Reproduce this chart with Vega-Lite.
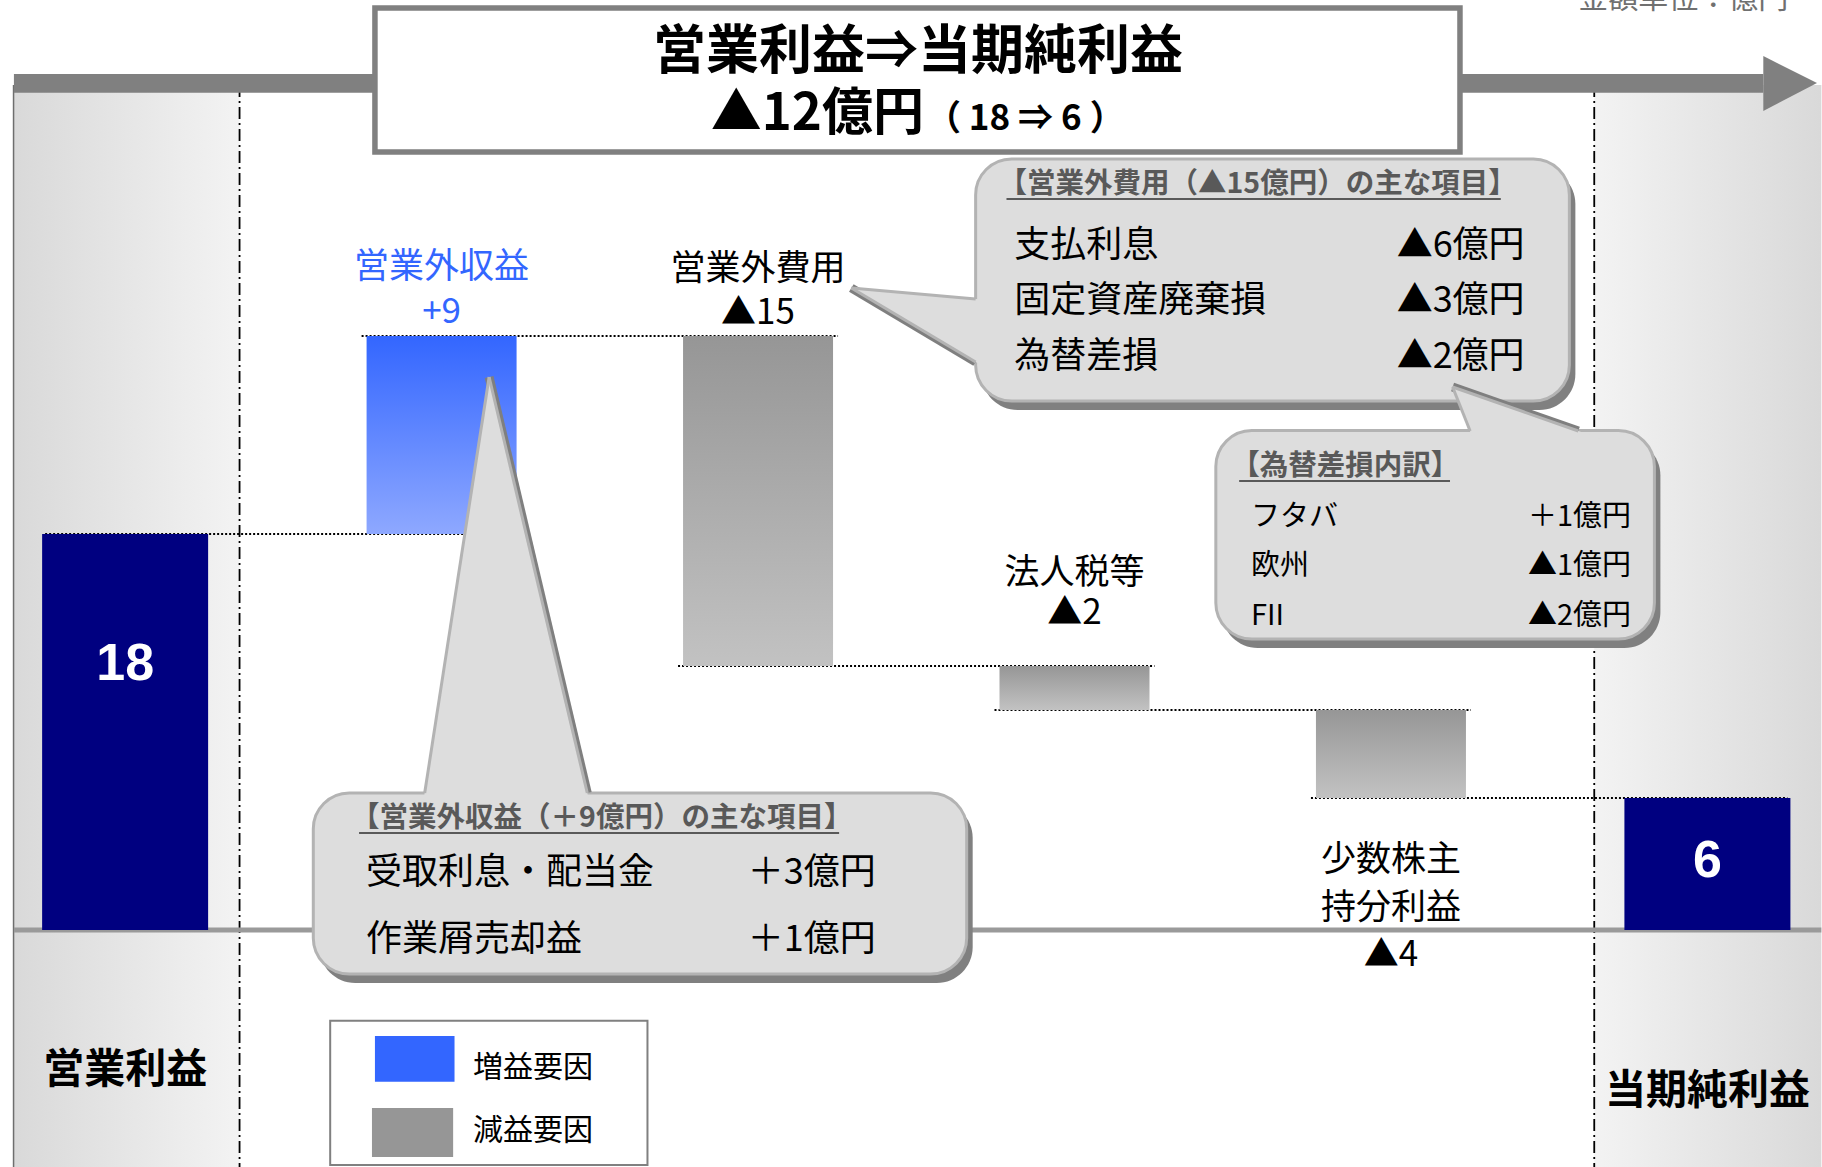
{
  "$schema": "https://vega.github.io/schema/vega-lite/v6.json",
  "width": 1822,
  "height": 1167,
  "autosize": "none",
  "padding": 0,
  "background": "white",
  "config": {"view": {"stroke": null}, "font": "Noto Sans CJK JP"},
  "datasets": {
    "panels": [
      {"side": "left", "x1": -0.3514, "x2": 0.362, "y1": 38.41, "y2": -10.8},
      {"side": "right", "x1": 4.6424, "x2": 5.36, "y1": 38.41, "y2": -10.8}
    ],
    "vlines": [
      {"style": "edge", "x": -0.3526, "y1": 38.41, "y2": -10.8},
      {"style": "dashdot", "x": 0.3616, "y1": 38.41, "y2": -10.8},
      {"style": "dashdot", "x": 4.6424, "y1": 38.41, "y2": -10.8}
    ],
    "arrow": [{"x1": -0.3514, "x2": 5.1766, "y1": 38.909, "y2": 38.059}],
    "arrowhead": [
      {"x": 5.1766, "top": 39.727, "bottom": 37.227},
      {"x": 5.3463, "top": 38.5, "bottom": 38.5}
    ],
    "frames": [
      {"frame": "title", "x1": 0.7894, "x2": 4.2181, "y1": 41.909, "y2": 35.364},
      {"frame": "legend", "x1": 0.648, "x2": 1.6506, "y1": -4.123, "y2": -10.682}
    ],
    "baseline": [{"x1": -0.3514, "x2": 5.36, "y": 0}],
    "bars": [
      {"idx": 0, "item": "営業利益", "start": 0, "end": 18, "kind": "total"},
      {"idx": 1, "item": "営業外収益", "start": 18, "end": 27, "kind": "up"},
      {"idx": 2, "item": "営業外費用", "start": 27, "end": 12, "kind": "down"},
      {"idx": 3, "item": "法人税等", "start": 12, "end": 10, "kind": "down"},
      {"idx": 4, "item": "少数株主持分利益", "start": 10, "end": 6, "kind": "down"},
      {"idx": 5, "item": "当期純利益", "start": 0, "end": 6, "kind": "total"}
    ],
    "steps": [
      {"from": 0, "to": 1, "level": 18},
      {"from": 1, "to": 2, "level": 27},
      {"from": 2, "to": 3, "level": 12},
      {"from": 3, "to": 4, "level": 10},
      {"from": 4, "to": 5, "level": 6}
    ],
    "callouts": [
      {"id": "c1", "x1": 2.6876, "x2": 4.5638, "y1": 35.045, "y2": 24.045},
      {"id": "c2", "x1": 3.4466, "x2": 4.8325, "y1": 22.7, "y2": 13.227},
      {"id": "c3", "x1": 0.5946, "x2": 2.6593, "y1": 6.227, "y2": -2.0}
    ],
    "pointerV": [
      {"x": 2.2948, "top": 29.182, "bottom": 29.182},
      {"x": 2.7159, "top": 28.645, "bottom": 25.577}
    ],
    "pointerH": [
      {"id": "p2", "y": 24.682, "left": 4.1948, "right": 4.1948},
      {"id": "p2", "y": 22.273, "left": 4.2608, "right": 4.6737},
      {"id": "p3", "y": 25.136, "left": 1.1502, "right": 1.1502},
      {"id": "p3", "y": 5.818, "left": 0.9422, "right": 1.467}
    ],
    "edges": [
      {"edge": "p1a", "tone": "light", "x": 2.2948, "y": 29.182},
      {"edge": "p1a", "tone": "light", "x": 2.6876, "y": 28.682},
      {"edge": "p1b", "tone": "dark", "x": 2.2948, "y": 29.182},
      {"edge": "p1b", "tone": "dark", "x": 2.6876, "y": 25.818},
      {"edge": "p2a", "tone": "light", "x": 4.1948, "y": 24.682},
      {"edge": "p2a", "tone": "light", "x": 4.2502, "y": 22.682},
      {"edge": "p2b", "tone": "dark", "x": 4.1948, "y": 24.682},
      {"edge": "p2b", "tone": "dark", "x": 4.5921, "y": 22.682},
      {"edge": "p3a", "tone": "light", "x": 1.1502, "y": 25.136},
      {"edge": "p3a", "tone": "light", "x": 0.9466, "y": 6.227},
      {"edge": "p3b", "tone": "dark", "x": 1.1502, "y": 25.136},
      {"edge": "p3b", "tone": "dark", "x": 1.4604, "y": 6.227}
    ],
    "underlines": [
      {"x1": 2.7851, "x2": 4.3471, "y": 33.227},
      {"x1": 3.5203, "x2": 4.1866, "y": 20.41},
      {"x1": 0.7392, "x2": 2.2562, "y": 4.409}
    ],
    "swatches": [
      {"factor": "増益要因", "x1": 0.7894, "x2": 1.0409, "y1": -4.818, "y2": -6.895},
      {"factor": "減益要因", "x1": 0.78, "x2": 1.0365, "y1": -8.091, "y2": -10.318}
    ],
    "texts": [
      {"role": "title1", "text": "営業利益⇒当期純利益", "x": 2.5054, "y": 39.86},
      {"role": "title2a", "text": "▲12億円", "x": 2.5242, "y": 36.364},
      {"role": "title2b", "text": "（ 18 ⇒ 6 ）", "x": 2.5305, "y": 36.364},
      {"role": "unit", "text": "金額単位：億円", "x": 5.2552, "y": 41.932},
      {"role": "blue", "text": "営業外収益", "x": 1, "y": 30.136},
      {"role": "blue", "text": "+9", "x": 1, "y": 28.09},
      {"role": "black", "text": "営業外費用", "x": 2, "y": 30.045},
      {"role": "black", "text": "▲15", "x": 2, "y": 28.045},
      {"role": "black", "text": "法人税等", "x": 3, "y": 16.25},
      {"role": "black", "text": "▲2", "x": 3, "y": 14.41},
      {"role": "black", "text": "少数株主", "x": 4, "y": 3.18},
      {"role": "black", "text": "持分利益", "x": 4, "y": 1.0},
      {"role": "black", "text": "▲4", "x": 4, "y": -1.114},
      {"role": "white", "text": "18", "x": 0, "y": 12.09},
      {"role": "white", "text": "6", "x": 5, "y": 3.136},
      {"role": "cat", "text": "営業利益", "x": 0, "y": -6.41},
      {"role": "cat", "text": "当期純利益", "x": 5, "y": -7.386},
      {"role": "ctitle", "text": "【営業外費用（▲15億円）の主な項目】", "x": 2.7599, "y": 33.909},
      {"role": "ctitle", "text": "【為替差損内訳】", "x": 3.4953, "y": 21.09},
      {"role": "ctitle", "text": "【営業外収益（＋9億円）の主な項目】", "x": 0.714, "y": 5.091},
      {"role": "itemL", "text": "支払利息", "x": 2.8093, "y": 31.091},
      {"role": "itemL", "text": "固定資産廃棄損", "x": 2.8093, "y": 28.591},
      {"role": "itemL", "text": "為替差損", "x": 2.8093, "y": 26.045},
      {"role": "itemR", "text": "▲6億円", "x": 4.4224, "y": 31.091},
      {"role": "itemR", "text": "▲3億円", "x": 4.4224, "y": 28.591},
      {"role": "itemR", "text": "▲2億円", "x": 4.4224, "y": 26.045},
      {"role": "itemL", "text": "受取利息・配当金", "x": 0.7612, "y": 2.591},
      {"role": "itemL", "text": "作業屑売却益", "x": 0.7612, "y": -0.4545},
      {"role": "itemR", "text": "＋3億円", "x": 2.3718, "y": 2.591},
      {"role": "itemR", "text": "＋1億円", "x": 2.3718, "y": -0.4545},
      {"role": "smallL", "text": "フタバ", "x": 3.5575, "y": 18.795},
      {"role": "smallL", "text": "欧州", "x": 3.5575, "y": 16.523},
      {"role": "smallL", "text": "FII", "x": 3.5575, "y": 14.273},
      {"role": "smallR", "text": "＋1億円", "x": 4.7587, "y": 18.795},
      {"role": "smallR", "text": "▲1億円", "x": 4.7587, "y": 16.523},
      {"role": "smallR", "text": "▲2億円", "x": 4.7587, "y": 14.273},
      {"role": "legend", "text": "増益要因", "x": 1.0996, "y": -6.273},
      {"role": "legend", "text": "減益要因", "x": 1.0996, "y": -9.136}
    ]
  },
  "layer": [
    {
      "data": {"name": "panels"},
      "transform": [{"filter": "datum.side === 'left'"}],
      "mark": {"type": "rect", "fill": {"gradient": "linear", "x1": 0, "y1": 0, "x2": 1, "y2": 0, "stops": [{"offset": 0, "color": "#d9d9d9"}, {"offset": 1, "color": "#f3f3f3"}]}},
      "encoding": {
        "x": {"field": "x1", "type": "quantitative", "scale": {"domain": [-0.3796, 5.3463], "nice": false, "zero": false}, "axis": null},
        "x2": {"field": "x2"},
        "y": {"field": "y1", "type": "quantitative", "scale": {"domain": [-10.773, 42.273], "nice": false, "zero": false}, "axis": null},
        "y2": {"field": "y2"}
      }
    },
    {
      "data": {"name": "panels"},
      "transform": [{"filter": "datum.side === 'right'"}],
      "mark": {"type": "rect", "fill": {"gradient": "linear", "x1": 0, "y1": 0, "x2": 1, "y2": 0, "stops": [{"offset": 0, "color": "#f3f3f3"}, {"offset": 1, "color": "#d9d9d9"}]}},
      "encoding": {
        "x": {"field": "x1", "type": "quantitative", "scale": {"domain": [-0.3796, 5.3463], "nice": false, "zero": false}, "axis": null},
        "x2": {"field": "x2"},
        "y": {"field": "y1", "type": "quantitative", "scale": {"domain": [-10.773, 42.273], "nice": false, "zero": false}, "axis": null},
        "y2": {"field": "y2"}
      }
    },
    {
      "data": {"name": "vlines"},
      "transform": [{"filter": "datum.style === 'edge'"}],
      "mark": {"type": "rule", "stroke": "#6e6e6e", "strokeWidth": 1.5},
      "encoding": {
        "x": {"field": "x", "type": "quantitative", "scale": {"domain": [-0.3796, 5.3463], "nice": false, "zero": false}, "axis": null},
        "y": {"field": "y1", "type": "quantitative", "scale": {"domain": [-10.773, 42.273], "nice": false, "zero": false}, "axis": null},
        "y2": {"field": "y2"}
      }
    },
    {
      "data": {"name": "vlines"},
      "transform": [{"filter": "datum.style === 'dashdot'"}],
      "mark": {"type": "rule", "stroke": "#000000", "strokeWidth": 1.8, "strokeDash": [12, 4, 2, 4]},
      "encoding": {
        "x": {"field": "x", "type": "quantitative", "scale": {"domain": [-0.3796, 5.3463], "nice": false, "zero": false}, "axis": null},
        "y": {"field": "y1", "type": "quantitative", "scale": {"domain": [-10.773, 42.273], "nice": false, "zero": false}, "axis": null},
        "y2": {"field": "y2"}
      }
    },
    {
      "data": {"name": "arrow"},
      "mark": {"type": "rect", "fill": "#808080"},
      "encoding": {
        "x": {"field": "x1", "type": "quantitative", "scale": {"domain": [-0.3796, 5.3463], "nice": false, "zero": false}, "axis": null},
        "x2": {"field": "x2"},
        "y": {"field": "y1", "type": "quantitative", "scale": {"domain": [-10.773, 42.273], "nice": false, "zero": false}, "axis": null},
        "y2": {"field": "y2"}
      }
    },
    {
      "data": {"name": "arrowhead"},
      "mark": {"type": "area", "fill": "#808080", "orient": "vertical"},
      "encoding": {
        "x": {"field": "x", "type": "quantitative", "scale": {"domain": [-0.3796, 5.3463], "nice": false, "zero": false}, "axis": null},
        "y": {"field": "top", "type": "quantitative", "scale": {"domain": [-10.773, 42.273], "nice": false, "zero": false}, "axis": null, "stack": null},
        "y2": {"field": "bottom"}
      }
    },
    {
      "data": {"name": "frames"},
      "transform": [{"filter": "datum.frame === 'title'"}],
      "mark": {"type": "rect", "fill": "#ffffff", "stroke": "#808080", "strokeWidth": 5.5},
      "encoding": {
        "x": {"field": "x1", "type": "quantitative", "scale": {"domain": [-0.3796, 5.3463], "nice": false, "zero": false}, "axis": null},
        "x2": {"field": "x2"},
        "y": {"field": "y1", "type": "quantitative", "scale": {"domain": [-10.773, 42.273], "nice": false, "zero": false}, "axis": null},
        "y2": {"field": "y2"}
      }
    },
    {
      "data": {"name": "baseline"},
      "mark": {"type": "rule", "stroke": "#9a9a9a", "strokeWidth": 5},
      "encoding": {
        "x": {"field": "x1", "type": "quantitative", "scale": {"domain": [-0.3796, 5.3463], "nice": false, "zero": false}, "axis": null},
        "x2": {"field": "x2"},
        "y": {"field": "y", "type": "quantitative", "scale": {"domain": [-10.773, 42.273], "nice": false, "zero": false}, "axis": null}
      }
    },
    {
      "data": {"name": "steps"},
      "mark": {"type": "rule", "stroke": "#000000", "strokeWidth": 2, "strokeDash": [2, 2], "xOffset": -80, "x2Offset": 80},
      "encoding": {
        "x": {"field": "from", "type": "quantitative", "scale": {"domain": [-0.3796, 5.3463], "nice": false, "zero": false}, "axis": null},
        "x2": {"field": "to"},
        "y": {"field": "level", "type": "quantitative", "scale": {"domain": [-10.773, 42.273], "nice": false, "zero": false}, "axis": null}
      }
    },
    {
      "data": {"name": "bars"},
      "transform": [{"filter": "datum.kind === 'total'"}],
      "mark": {"type": "bar", "width": 166, "fill": "#000080"},
      "encoding": {
        "x": {"field": "idx", "type": "quantitative", "scale": {"domain": [-0.3796, 5.3463], "nice": false, "zero": false}, "axis": null},
        "y": {"field": "start", "type": "quantitative", "scale": {"domain": [-10.773, 42.273], "nice": false, "zero": false}, "axis": null, "stack": null},
        "y2": {"field": "end"}
      }
    },
    {
      "data": {"name": "bars"},
      "transform": [{"filter": "datum.kind === 'up'"}],
      "mark": {"type": "bar", "width": 150, "fill": {"gradient": "linear", "x1": 0, "y1": 0, "x2": 0, "y2": 1, "stops": [{"offset": 0, "color": "#3366ff"}, {"offset": 1, "color": "#8ea8ff"}]}},
      "encoding": {
        "x": {"field": "idx", "type": "quantitative", "scale": {"domain": [-0.3796, 5.3463], "nice": false, "zero": false}, "axis": null},
        "y": {"field": "start", "type": "quantitative", "scale": {"domain": [-10.773, 42.273], "nice": false, "zero": false}, "axis": null, "stack": null},
        "y2": {"field": "end"}
      }
    },
    {
      "data": {"name": "bars"},
      "transform": [{"filter": "datum.kind === 'down'"}],
      "mark": {"type": "bar", "width": 150, "fill": {"gradient": "linear", "x1": 0, "y1": 0, "x2": 0, "y2": 1, "stops": [{"offset": 0, "color": "#969696"}, {"offset": 1, "color": "#c2c2c2"}]}},
      "encoding": {
        "x": {"field": "idx", "type": "quantitative", "scale": {"domain": [-0.3796, 5.3463], "nice": false, "zero": false}, "axis": null},
        "y": {"field": "start", "type": "quantitative", "scale": {"domain": [-10.773, 42.273], "nice": false, "zero": false}, "axis": null, "stack": null},
        "y2": {"field": "end"}
      }
    },
    {
      "data": {"name": "callouts"},
      "mark": {"type": "rect", "fill": "#808080", "cornerRadius": 36, "xOffset": 6, "x2Offset": 6, "yOffset": 9, "y2Offset": 9},
      "encoding": {
        "x": {"field": "x1", "type": "quantitative", "scale": {"domain": [-0.3796, 5.3463], "nice": false, "zero": false}, "axis": null},
        "x2": {"field": "x2"},
        "y": {"field": "y1", "type": "quantitative", "scale": {"domain": [-10.773, 42.273], "nice": false, "zero": false}, "axis": null},
        "y2": {"field": "y2"}
      }
    },
    {
      "data": {"name": "callouts"},
      "mark": {"type": "rect", "fill": "#dddddd", "stroke": "#b3b3b3", "strokeWidth": 3, "cornerRadius": 36},
      "encoding": {
        "x": {"field": "x1", "type": "quantitative", "scale": {"domain": [-0.3796, 5.3463], "nice": false, "zero": false}, "axis": null},
        "x2": {"field": "x2"},
        "y": {"field": "y1", "type": "quantitative", "scale": {"domain": [-10.773, 42.273], "nice": false, "zero": false}, "axis": null},
        "y2": {"field": "y2"}
      }
    },
    {
      "data": {"name": "edges"},
      "transform": [{"filter": "datum.tone === 'dark'"}],
      "mark": {"type": "line", "stroke": "#7f7f7f", "strokeWidth": 9, "strokeCap": "butt"},
      "encoding": {
        "x": {"field": "x", "type": "quantitative", "scale": {"domain": [-0.3796, 5.3463], "nice": false, "zero": false}, "axis": null},
        "y": {"field": "y", "type": "quantitative", "scale": {"domain": [-10.773, 42.273], "nice": false, "zero": false}, "axis": null},
        "detail": {"field": "edge"}
      }
    },
    {
      "data": {"name": "pointerV"},
      "mark": {"type": "area", "fill": "#dddddd", "orient": "vertical"},
      "encoding": {
        "x": {"field": "x", "type": "quantitative", "scale": {"domain": [-0.3796, 5.3463], "nice": false, "zero": false}, "axis": null},
        "y": {"field": "top", "type": "quantitative", "scale": {"domain": [-10.773, 42.273], "nice": false, "zero": false}, "axis": null, "stack": null},
        "y2": {"field": "bottom"}
      }
    },
    {
      "data": {"name": "pointerH"},
      "mark": {"type": "area", "fill": "#dddddd", "orient": "horizontal"},
      "encoding": {
        "y": {"field": "y", "type": "quantitative", "scale": {"domain": [-10.773, 42.273], "nice": false, "zero": false}, "axis": null},
        "x": {"field": "left", "type": "quantitative", "scale": {"domain": [-0.3796, 5.3463], "nice": false, "zero": false}, "axis": null, "stack": null},
        "x2": {"field": "right"},
        "detail": {"field": "id"}
      }
    },
    {
      "data": {"name": "edges"},
      "mark": {"type": "line", "stroke": "#b3b3b3", "strokeWidth": 3},
      "encoding": {
        "x": {"field": "x", "type": "quantitative", "scale": {"domain": [-0.3796, 5.3463], "nice": false, "zero": false}, "axis": null},
        "y": {"field": "y", "type": "quantitative", "scale": {"domain": [-10.773, 42.273], "nice": false, "zero": false}, "axis": null},
        "detail": {"field": "edge"}
      }
    },
    {
      "data": {"name": "underlines"},
      "mark": {"type": "rule", "stroke": "#595959", "strokeWidth": 2},
      "encoding": {
        "x": {"field": "x1", "type": "quantitative", "scale": {"domain": [-0.3796, 5.3463], "nice": false, "zero": false}, "axis": null},
        "x2": {"field": "x2"},
        "y": {"field": "y", "type": "quantitative", "scale": {"domain": [-10.773, 42.273], "nice": false, "zero": false}, "axis": null}
      }
    },
    {
      "data": {"name": "frames"},
      "transform": [{"filter": "datum.frame === 'legend'"}],
      "mark": {"type": "rect", "fill": "#ffffff", "stroke": "#808080", "strokeWidth": 2},
      "encoding": {
        "x": {"field": "x1", "type": "quantitative", "scale": {"domain": [-0.3796, 5.3463], "nice": false, "zero": false}, "axis": null},
        "x2": {"field": "x2"},
        "y": {"field": "y1", "type": "quantitative", "scale": {"domain": [-10.773, 42.273], "nice": false, "zero": false}, "axis": null},
        "y2": {"field": "y2"}
      }
    },
    {
      "data": {"name": "swatches"},
      "mark": {"type": "rect"},
      "encoding": {
        "x": {"field": "x1", "type": "quantitative", "scale": {"domain": [-0.3796, 5.3463], "nice": false, "zero": false}, "axis": null},
        "x2": {"field": "x2"},
        "y": {"field": "y1", "type": "quantitative", "scale": {"domain": [-10.773, 42.273], "nice": false, "zero": false}, "axis": null},
        "y2": {"field": "y2"},
        "fill": {"field": "factor", "type": "nominal", "scale": {"domain": ["増益要因", "減益要因"], "range": ["#3366ff", "#969696"]}, "legend": null}
      }
    },
    {
      "data": {"name": "texts"},
      "transform": [{"filter": "datum.role === 'title1'"}],
      "mark": {"type": "text", "font": "Noto Sans CJK JP", "fontSize": 53, "fontWeight": "bold", "fill": "#000000", "align": "center", "baseline": "middle"},
      "encoding": {
        "x": {"field": "x", "type": "quantitative", "scale": {"domain": [-0.3796, 5.3463], "nice": false, "zero": false}, "axis": null},
        "y": {"field": "y", "type": "quantitative", "scale": {"domain": [-10.773, 42.273], "nice": false, "zero": false}, "axis": null},
        "text": {"field": "text"}
      }
    },
    {
      "data": {"name": "texts"},
      "transform": [{"filter": "datum.role === 'title2a'"}],
      "mark": {"type": "text", "font": "Noto Sans CJK JP", "fontSize": 51, "fontWeight": "bold", "fill": "#000000", "align": "right", "baseline": "alphabetic"},
      "encoding": {
        "x": {"field": "x", "type": "quantitative", "scale": {"domain": [-0.3796, 5.3463], "nice": false, "zero": false}, "axis": null},
        "y": {"field": "y", "type": "quantitative", "scale": {"domain": [-10.773, 42.273], "nice": false, "zero": false}, "axis": null},
        "text": {"field": "text"}
      }
    },
    {
      "data": {"name": "texts"},
      "transform": [{"filter": "datum.role === 'title2b'"}],
      "mark": {"type": "text", "font": "Noto Sans CJK JP", "fontSize": 35, "fontWeight": "bold", "fill": "#000000", "align": "left", "baseline": "alphabetic"},
      "encoding": {
        "x": {"field": "x", "type": "quantitative", "scale": {"domain": [-0.3796, 5.3463], "nice": false, "zero": false}, "axis": null},
        "y": {"field": "y", "type": "quantitative", "scale": {"domain": [-10.773, 42.273], "nice": false, "zero": false}, "axis": null},
        "text": {"field": "text"}
      }
    },
    {
      "data": {"name": "texts"},
      "transform": [{"filter": "datum.role === 'unit'"}],
      "mark": {"type": "text", "font": "Noto Sans CJK JP", "fontSize": 30, "fill": "#707070", "align": "right", "baseline": "alphabetic"},
      "encoding": {
        "x": {"field": "x", "type": "quantitative", "scale": {"domain": [-0.3796, 5.3463], "nice": false, "zero": false}, "axis": null},
        "y": {"field": "y", "type": "quantitative", "scale": {"domain": [-10.773, 42.273], "nice": false, "zero": false}, "axis": null},
        "text": {"field": "text"}
      }
    },
    {
      "data": {"name": "texts"},
      "transform": [{"filter": "datum.role === 'blue'"}],
      "mark": {"type": "text", "font": "Noto Sans CJK JP", "fontSize": 35, "fill": "#3366ff", "align": "center", "baseline": "middle"},
      "encoding": {
        "x": {"field": "x", "type": "quantitative", "scale": {"domain": [-0.3796, 5.3463], "nice": false, "zero": false}, "axis": null},
        "y": {"field": "y", "type": "quantitative", "scale": {"domain": [-10.773, 42.273], "nice": false, "zero": false}, "axis": null},
        "text": {"field": "text"}
      }
    },
    {
      "data": {"name": "texts"},
      "transform": [{"filter": "datum.role === 'black'"}],
      "mark": {"type": "text", "font": "Noto Sans CJK JP", "fontSize": 35, "fill": "#000000", "align": "center", "baseline": "middle"},
      "encoding": {
        "x": {"field": "x", "type": "quantitative", "scale": {"domain": [-0.3796, 5.3463], "nice": false, "zero": false}, "axis": null},
        "y": {"field": "y", "type": "quantitative", "scale": {"domain": [-10.773, 42.273], "nice": false, "zero": false}, "axis": null},
        "text": {"field": "text"}
      }
    },
    {
      "data": {"name": "texts"},
      "transform": [{"filter": "datum.role === 'white'"}],
      "mark": {"type": "text", "font": "Liberation Sans", "fontSize": 52, "fontWeight": "bold", "fill": "#ffffff", "align": "center", "baseline": "middle"},
      "encoding": {
        "x": {"field": "x", "type": "quantitative", "scale": {"domain": [-0.3796, 5.3463], "nice": false, "zero": false}, "axis": null},
        "y": {"field": "y", "type": "quantitative", "scale": {"domain": [-10.773, 42.273], "nice": false, "zero": false}, "axis": null},
        "text": {"field": "text"}
      }
    },
    {
      "data": {"name": "texts"},
      "transform": [{"filter": "datum.role === 'cat'"}],
      "mark": {"type": "text", "font": "Noto Sans CJK JP", "fontSize": 41, "fontWeight": "bold", "fill": "#000000", "align": "center", "baseline": "middle"},
      "encoding": {
        "x": {"field": "x", "type": "quantitative", "scale": {"domain": [-0.3796, 5.3463], "nice": false, "zero": false}, "axis": null},
        "y": {"field": "y", "type": "quantitative", "scale": {"domain": [-10.773, 42.273], "nice": false, "zero": false}, "axis": null},
        "text": {"field": "text"}
      }
    },
    {
      "data": {"name": "texts"},
      "transform": [{"filter": "datum.role === 'ctitle'"}],
      "mark": {"type": "text", "font": "Noto Sans CJK JP", "fontSize": 28.5, "fontWeight": "bold", "fill": "#595959", "align": "left", "baseline": "middle"},
      "encoding": {
        "x": {"field": "x", "type": "quantitative", "scale": {"domain": [-0.3796, 5.3463], "nice": false, "zero": false}, "axis": null},
        "y": {"field": "y", "type": "quantitative", "scale": {"domain": [-10.773, 42.273], "nice": false, "zero": false}, "axis": null},
        "text": {"field": "text"}
      }
    },
    {
      "data": {"name": "texts"},
      "transform": [{"filter": "datum.role === 'itemL'"}],
      "mark": {"type": "text", "font": "Noto Sans CJK JP", "fontSize": 36, "fill": "#000000", "align": "left", "baseline": "middle"},
      "encoding": {
        "x": {"field": "x", "type": "quantitative", "scale": {"domain": [-0.3796, 5.3463], "nice": false, "zero": false}, "axis": null},
        "y": {"field": "y", "type": "quantitative", "scale": {"domain": [-10.773, 42.273], "nice": false, "zero": false}, "axis": null},
        "text": {"field": "text"}
      }
    },
    {
      "data": {"name": "texts"},
      "transform": [{"filter": "datum.role === 'itemR'"}],
      "mark": {"type": "text", "font": "Noto Sans CJK JP", "fontSize": 36, "fill": "#000000", "align": "right", "baseline": "middle"},
      "encoding": {
        "x": {"field": "x", "type": "quantitative", "scale": {"domain": [-0.3796, 5.3463], "nice": false, "zero": false}, "axis": null},
        "y": {"field": "y", "type": "quantitative", "scale": {"domain": [-10.773, 42.273], "nice": false, "zero": false}, "axis": null},
        "text": {"field": "text"}
      }
    },
    {
      "data": {"name": "texts"},
      "transform": [{"filter": "datum.role === 'smallL'"}],
      "mark": {"type": "text", "font": "Noto Sans CJK JP", "fontSize": 29, "fill": "#000000", "align": "left", "baseline": "middle"},
      "encoding": {
        "x": {"field": "x", "type": "quantitative", "scale": {"domain": [-0.3796, 5.3463], "nice": false, "zero": false}, "axis": null},
        "y": {"field": "y", "type": "quantitative", "scale": {"domain": [-10.773, 42.273], "nice": false, "zero": false}, "axis": null},
        "text": {"field": "text"}
      }
    },
    {
      "data": {"name": "texts"},
      "transform": [{"filter": "datum.role === 'smallR'"}],
      "mark": {"type": "text", "font": "Noto Sans CJK JP", "fontSize": 29, "fill": "#000000", "align": "right", "baseline": "middle"},
      "encoding": {
        "x": {"field": "x", "type": "quantitative", "scale": {"domain": [-0.3796, 5.3463], "nice": false, "zero": false}, "axis": null},
        "y": {"field": "y", "type": "quantitative", "scale": {"domain": [-10.773, 42.273], "nice": false, "zero": false}, "axis": null},
        "text": {"field": "text"}
      }
    },
    {
      "data": {"name": "texts"},
      "transform": [{"filter": "datum.role === 'legend'"}],
      "mark": {"type": "text", "font": "Noto Sans CJK JP", "fontSize": 30, "fill": "#000000", "align": "left", "baseline": "middle"},
      "encoding": {
        "x": {"field": "x", "type": "quantitative", "scale": {"domain": [-0.3796, 5.3463], "nice": false, "zero": false}, "axis": null},
        "y": {"field": "y", "type": "quantitative", "scale": {"domain": [-10.773, 42.273], "nice": false, "zero": false}, "axis": null},
        "text": {"field": "text"}
      }
    }
  ]
}
